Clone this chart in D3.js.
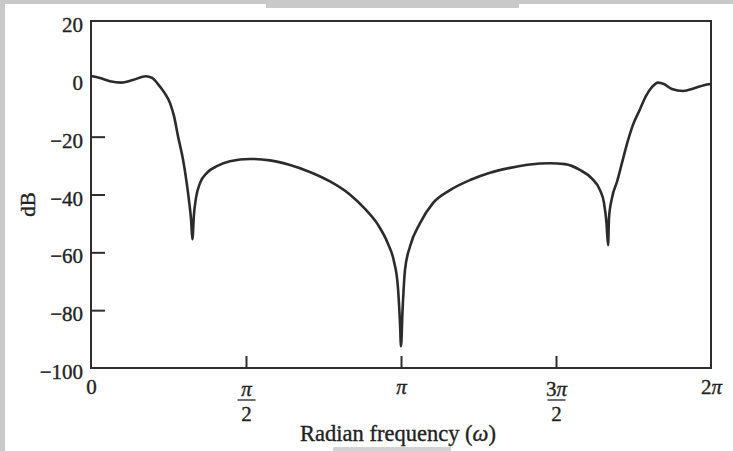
<!DOCTYPE html>
<html>
<head>
<meta charset="utf-8">
<script src="https://cdn.jsdelivr.net/npm/d3@7"></script>
<style>
  html, body { margin: 0; padding: 0; background: #fff; }
  svg { display: block; }
</style>
</head>
<body>
<svg id="chart" width="733" height="451"></svg>
<script>
// frequency in units of pi, magnitude in dB
const omega = [0, 0.029, 0.061, 0.097, 0.135, 0.177, 0.197, 0.216, 0.235, 0.255, 0.268, 0.281, 0.297, 0.306, 0.316, 0.323, 0.327,
  0.332, 0.339, 0.352, 0.374, 0.406, 0.448, 0.513, 0.577, 0.642, 0.706, 0.771, 0.835, 0.884, 0.926, 0.958, 0.977, 0.990, 0.997, 1.0,
  1.005, 1.013, 1.029, 1.061, 1.103, 1.158, 1.223, 1.287, 1.352, 1.416, 1.481, 1.529, 1.577, 1.616, 1.642, 1.655, 1.663, 1.668,
  1.671, 1.681, 1.697, 1.713, 1.729, 1.748, 1.771, 1.790, 1.810, 1.829, 1.848, 1.874, 1.910, 1.948, 1.977, 2.0];
const magDb = [1.0, 0.3, -0.8, -1.3, -0.4, 0.9, 0.3, -1.8, -4.5, -8.4, -13, -20, -28, -34, -42, -49, -55.5,
  -47, -41, -36, -32.5, -30.2, -28.5, -27.7, -28.2, -29.8, -32.2, -35.5, -40, -45, -50.5, -57, -63, -72, -85, -92.5,
  -80, -66, -58, -50, -43, -38.5, -35, -32.5, -30.8, -29.6, -29.2, -29.5, -31.5, -34.5, -38.5, -43, -50, -57.5,
  -48, -41, -35.5, -29, -22.5, -16, -10.5, -6, -2.8, -1.3, -1.8, -3.5, -4.2, -3.2, -2.2, -1.8];

const yTicks = [20, 0, -20, -40, -60, -80, -100];
const xTicks = [0, 0.5, 1, 1.5, 2];
// [numerator, denominator] ; denominator null when there is no fraction
const xTickLabels = [["0", null], ["π", "2"], ["π", null], ["3π", "2"], ["2π", null]];

const svg = d3.select('#chart');
const W = 733, H = 451;
const plotLeft = 91, plotRight = 711, plotTop = 21, plotBottom = 368;
const font = '"Liberation Serif", "DejaVu Serif", serif';
const ink = '#2e2e2e';
const textInk = '#222';

// scan border
svg.append('rect').attr('width', W).attr('height', H).attr('fill', '#c9c9c9');
svg.append('rect').attr('x', 5).attr('y', 4).attr('width', W - 5).attr('height', H - 4).attr('fill', '#fff');
svg.append('rect').attr('x', 266).attr('y', 4).attr('width', 253).attr('height', 4).attr('fill', '#c9c9c9');
svg.append('rect').attr('x', 333).attr('y', 447).attr('width', 118).attr('height', 4).attr('fill', '#d2d2d2');

const x = d3.scaleLinear().domain([0, 2]).range([plotLeft, plotRight]);
const y = d3.scaleLinear().domain([-100, 20]).range([plotBottom, plotTop]);

function styleText(sel, size) {
  return sel.attr('font-family', font).attr('font-size', size)
    .attr('fill', textInk).attr('stroke', textInk).attr('stroke-width', 0.35);
}

// Y axis, ticks pointing into the plot
const yAxis = svg.append('g')
  .attr('transform', `translate(${plotLeft},0)`)
  .call(d3.axisLeft(y)
    .tickValues(yTicks)
    .tickSize(-14)
    .tickPadding(8)
    .tickFormat(d => d < 0 ? '\u2212' + Math.abs(d) : d));
yAxis.select('.domain').remove();
yAxis.selectAll('.tick line')
  .attr('stroke', ink).attr('stroke-width', 2)
  .attr('display', d => (d === 20 || d === 0 || d === -100) ? 'none' : null);
styleText(yAxis.selectAll('.tick text'), 21).attr('dy', '0.5em');

// X axis, ticks pointing up
const xAxis = svg.append('g')
  .attr('transform', `translate(0,${plotBottom})`)
  .call(d3.axisBottom(x).tickValues(xTicks).tickSize(-12).tickFormat(''));
xAxis.select('.domain').remove();
xAxis.selectAll('.tick line')
  .attr('stroke', ink).attr('stroke-width', 2)
  .attr('display', d => (d === 0 || d === 2) ? 'none' : null);

xAxis.selectAll('.tick').each(function(d, i) {
  const g = d3.select(this);
  const [num, den] = xTickLabels[i];
  const t = styleText(g.append('text'), 21)
    .attr('text-anchor', 'middle')
    .attr('y', den ? 28 : 26);
  // pi in italic, digits upright
  num.split(/(π)/).filter(s => s).forEach(s => {
    t.append('tspan').attr('font-style', s === 'π' ? 'italic' : null).text(s);
  });
  if (den) {
    g.append('line').attr('x1', -9).attr('x2', 9).attr('y1', 32).attr('y2', 32)
      .attr('stroke', textInk).attr('stroke-width', 1.3);
    styleText(g.append('text'), 21)
      .attr('text-anchor', 'middle')
      .attr('y', 53).text(den);
  }
});

// plot frame
svg.append('rect')
  .attr('x', plotLeft).attr('y', plotTop)
  .attr('width', plotRight - plotLeft).attr('height', plotBottom - plotTop)
  .attr('fill', 'none').attr('stroke', ink).attr('stroke-width', 2);

// response curve
const pts = omega.map((w, i) => [w, magDb[i]]);
const line = d3.line()
  .x(d => x(d[0]))
  .y(d => y(d[1]))
  .curve(d3.curveMonotoneX);
svg.append('path')
  .datum(pts)
  .attr('d', line)
  .attr('fill', 'none')
  .attr('stroke', '#2b2b2b')
  .attr('stroke-width', 2.6)
  .attr('stroke-linejoin', 'round');

// axis titles
styleText(svg.append('text'), 21)
  .attr('transform', `translate(35,${(plotTop + plotBottom) / 2 + 10}) rotate(-90)`)
  .attr('text-anchor', 'middle')
  .text('dB');

const xt = styleText(svg.append('text'), 22.5)
  .attr('x', 398).attr('y', 441)
  .attr('text-anchor', 'middle');
xt.append('tspan').text('Radian frequency (');
xt.append('tspan').attr('font-style', 'italic').text('ω');
xt.append('tspan').text(')');
</script>
</body>
</html>
